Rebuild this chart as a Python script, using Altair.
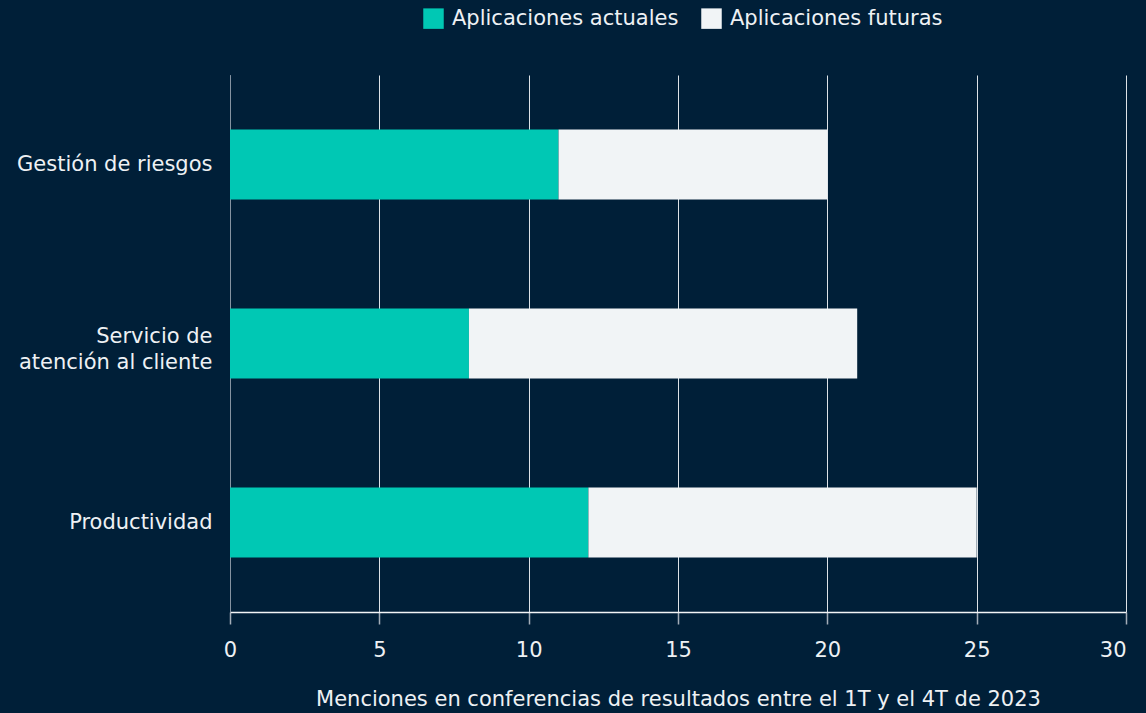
import altair as alt
import pandas as pd

categories = ["Gestión de riesgos", "Servicio de atención al cliente", "Productividad"]
series = ["Aplicaciones actuales", "Aplicaciones futuras"]
actuales = [11, 8, 12]
futuras = [9, 13, 13]

rows = []
for c, a, f in zip(categories, actuales, futuras):
    rows.append({"cat": c, "serie": series[0], "valor": a, "ord": 0})
    rows.append({"cat": c, "serie": series[1], "valor": f, "ord": 1})
df = pd.DataFrame(rows)

FONT = "DejaVu Sans"
BG = "#001f38"
TXT = "#eef1f4"
FS = 21

label_expr = ("datum.label == 'Servicio de atención al cliente' ? "
              "['Servicio de', 'atención al cliente'] : datum.label")

chart = alt.Chart(df).mark_bar(size=70).encode(
    y=alt.Y("cat:N", sort=categories, title=None,
            scale=alt.Scale(paddingInner=0, paddingOuter=0),
            axis=alt.Axis(labelExpr=label_expr, labelFontSize=FS, labelColor=TXT,
                          labelFont=FONT, labelPadding=18, labelLineHeight=26,
                          labelOffset=alt.expr("datum.value == 'Servicio de atención al cliente' ? -7 : 0"),
                          ticks=False, domain=True, domainColor="#8593a1",
                          grid=False, labelLimit=300)),
    x=alt.X("valor:Q", stack="zero",
            scale=alt.Scale(domain=[0, 30], nice=False),
            title="Menciones en conferencias de resultados entre el 1T y el 4T de 2023",
            axis=alt.Axis(values=[0, 5, 10, 15, 20, 25, 30], grid=True,
                          gridColor="#dde2e7", gridWidth=1,
                          domainColor="#f2f4f6", domainWidth=1.5,
                          tickColor="#a4aeb8", tickSize=12, tickWidth=1.5,
                          labelFontSize=FS, labelColor=TXT, labelFont=FONT,
                          labelPadding=15, labelFlush=False,
                          labelAlign=alt.expr("datum.value == 30 ? 'right' : 'center'"),
                          titleFontSize=FS, titleColor=TXT, titleFont=FONT,
                          titleFontWeight="normal", titlePadding=28, titleLimit=1000)),
    color=alt.Color("serie:N",
                    scale=alt.Scale(domain=series, range=["#00c8b4", "#f1f4f6"]),
                    legend=alt.Legend(title=None, orient="none", direction="horizontal",
                                      legendX=193, legendY=-67,
                                      symbolType="square", symbolSize=420,
                                      symbolStrokeWidth=0, symbolOpacity=1,
                                      labelFontSize=FS, labelColor=TXT, labelFont=FONT,
                                      labelLimit=400,
                                      columnPadding=22, labelOffset=8)),
    order=alt.Order("ord:Q"),
).properties(
    width=896, height=537,
    autosize=alt.AutoSizeParams(type="none"),
    padding={"left": 230, "top": 75, "right": 20, "bottom": 101},
    background=BG,
).configure_view(stroke=None)

chart.save("out.html", embed_options={"renderer": "svg", "actions": False})
